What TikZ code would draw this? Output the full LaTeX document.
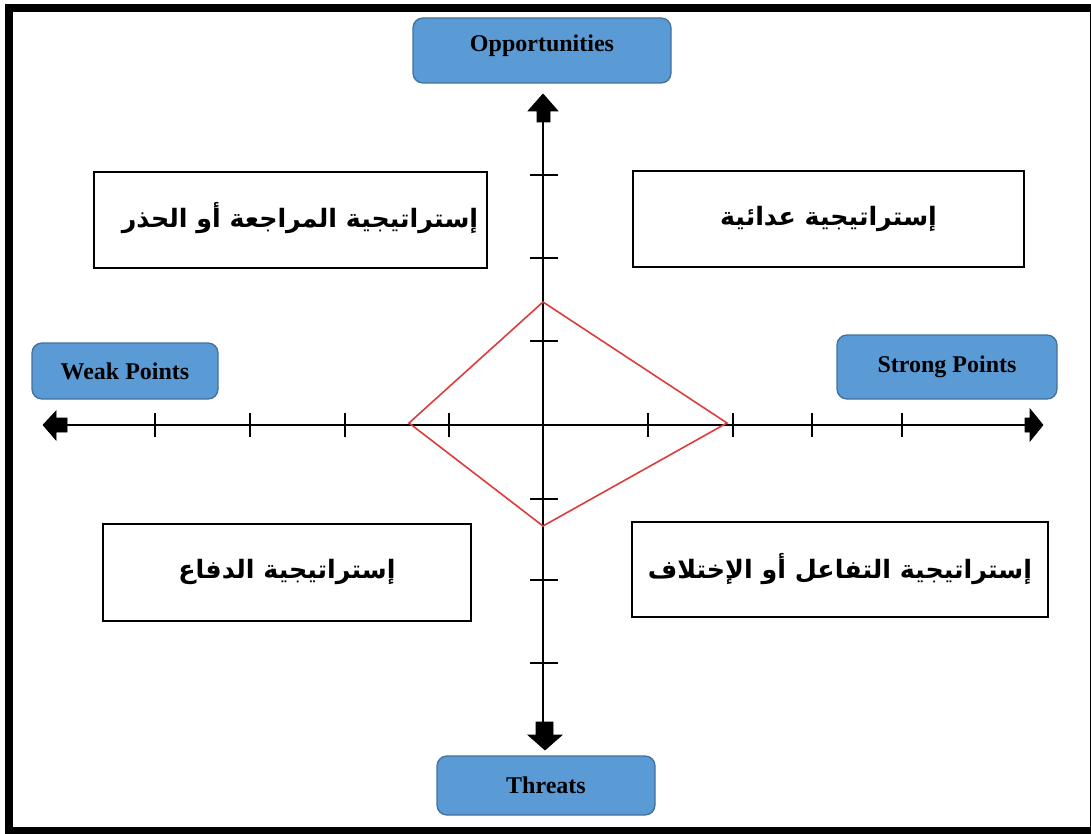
\documentclass[tikz,border=0pt]{standalone}
\usepackage{fontspec}
\setmainfont{Liberation Serif}
\newfontfamily\arabicfont[Script=Arabic]{DejaVu Sans}
\TeXXeTstate=1
\definecolor{boxblue}{HTML}{5B9BD5}
\definecolor{boxedge}{HTML}{41719C}
\definecolor{diared}{HTML}{DE3B3B}
\tikzset{
  bluebox/.style={draw=boxedge, line width=1pt, fill=boxblue, rounded corners=7.5pt, inner sep=0pt,
                  font=\fontsize{18}{20}\selectfont\bfseries},
  arabictext/.style={font=\arabicfont\bfseries\fontsize{19}{22}\selectfont},
  stratbox/.style={draw=black, line width=1.5pt, fill=white, inner sep=0pt, arabictext},
  axis/.style={line width=1.3pt, black},
  tick/.style={line width=1.3pt, black},
  diamondline/.style={draw=diared, line width=1.2pt, line join=miter},
  head/.style={fill=black, draw=black, line width=0.5pt}
}
\begin{document}
\begin{tikzpicture}[x=0.75pt, y=-0.75pt]
\useasboundingbox (0,0) rectangle (1091,834);
% outer frame
\draw[line width=6pt] (9,8.5) rectangle (1094,831);

% blue label boxes
\node[bluebox, minimum width=258*0.75pt, minimum height=65*0.75pt] (opp) at (542,50.5) {};
\node[font=\fontsize{18}{20}\selectfont\bfseries] (oppt) at (542,46) {Opportunities};
\node[bluebox, minimum width=186*0.75pt, minimum height=56*0.75pt] (weak) at (125,371) {Weak Points};
\node[bluebox, minimum width=220*0.75pt, minimum height=64*0.75pt] (strong) at (947,367) {Strong Points};
\node[bluebox, minimum width=218*0.75pt, minimum height=59*0.75pt] (thr) at (546,785.5) {Threats};

% strategy boxes
\node[stratbox, minimum width=393*0.75pt, minimum height=96*0.75pt] (tl) at (290.5,220) {};
\node[arabictext] (tlt) at (300,218) {\beginR إستراتيجية المراجعة أو الحذر\endR};
\node[stratbox, minimum width=391*0.75pt, minimum height=96*0.75pt] (tr) at (828.5,219) {\beginR إستراتيجية عدائية\endR};
\node[stratbox, minimum width=368*0.75pt, minimum height=97*0.75pt] (bl) at (287,572) {\beginR إستراتيجية الدفاع\endR};
\node[stratbox, minimum width=416*0.75pt, minimum height=95*0.75pt] (br) at (840,569) {\beginR إستراتيجية التفاعل أو الإختلاف\endR};

% axes
\coordinate (xl) at (60,425);
\coordinate (xr) at (1030,425);
\coordinate (yt) at (543,115);
\coordinate (yb) at (543,728);
\draw[axis] (xl) -- (xr);
\draw[axis] (yt) -- (yb);

% block arrow heads
\fill[head] (43,425) -- (56,411) -- (56,418) -- (67,418) -- (67,432) -- (56,432) -- (56,440) -- cycle;
\fill[head] (1043,425) -- (1030,409) -- (1030,418) -- (1025,418) -- (1025,432) -- (1030,432) -- (1030,441) -- cycle;
\fill[head] (543,94) -- (528,111) -- (537,111) -- (537,122) -- (550,122) -- (550,111) -- (558,111) -- cycle;
\fill[head] (545,750) -- (528,735) -- (536,735) -- (536,722) -- (553,722) -- (553,735) -- (562,735) -- cycle;

% ticks on horizontal axis
\foreach \x in {155,250,345,449,648,733,812,902}
  \draw[tick] (\x,413) -- (\x,437);
% ticks on vertical axis
\foreach \y in {175,258,341,499,580,663}
  \draw[tick] (530,\y) -- (558,\y);

% red diamond
\coordinate (dt) at (543,302);
\coordinate (dr) at (727,423);
\coordinate (db) at (543,526);
\coordinate (dl) at (409,423);
\draw[diamondline] (dt) -- (dr) -- (db) -- (dl) -- cycle;
\end{tikzpicture}
\end{document}
